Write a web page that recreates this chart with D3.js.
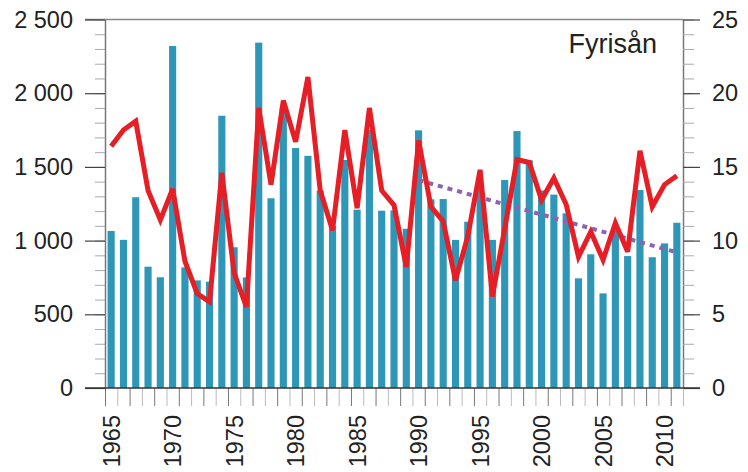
<!DOCTYPE html>
<html>
<head>
<meta charset="utf-8">
<script src="https://cdn.jsdelivr.net/npm/d3@7"></script>
<style>
  body { margin: 0; background: #fff; }
  text { font-family: "Liberation Sans", Arial, sans-serif; fill: #222; }
</style>
</head>
<body>
<div id="chart"></div>
<script>
// years and values
var years = d3.range(1965, 2012);
var barValues = [1065, 1005, 1294, 823, 751, 2320, 818, 730, 721, 1847,
                 955, 750, 2343, 1287, 1900, 1628, 1575, 1339, 1100, 1547,
                 1210, 1750, 1203, 1205, 1080, 1748, 1280, 1282, 1005, 1128,
                 1390, 1005, 1411, 1743, 1545, 1340, 1312, 1185, 744, 907,
                 642, 1070, 895, 1343, 887, 981, 1121];
var lineValues = [16.4, 17.5, 18.1, 13.4, 11.4, 13.5, 8.6, 6.4, 5.85, 14.6,
                  7.8, 5.5, 19.0, 13.8, 19.5, 16.7, 21.1, 13.4, 10.7, 17.5,
                  12.2, 19.0, 13.4, 12.4, 8.2, 16.8, 12.3, 11.3, 7.3, 10.3,
                  14.8, 6.2, 10.8, 15.5, 15.3, 12.75, 14.25, 12.45, 8.9, 10.6,
                  8.7, 11.2, 9.25, 16.1, 12.3, 13.8, 14.4];
var trendYears = [1990, 2011];
var trendValues = [14.1, 9.2];
var leftTicks = [0, 500, 1000, 1500, 2000, 2500];
var rightTicks = [0, 5, 10, 15, 20, 25];
var yearLabels = [1965, 1970, 1975, 1980, 1985, 1990, 1995, 2000, 2005, 2010];
var title = "Fyrisån";

var w = 748, h = 472;
// plot edges (note: "top" is taken by window.top, so use other names)
var plotLeft = 105, plotRight = 683, plotTop = 19.5, plotBottom = 388;

var svg = d3.select("#chart").append("svg")
    .attr("width", w)
    .attr("height", h);

// scales
var x = d3.scaleBand()
    .domain(years)
    .range([plotLeft, plotRight])
    .paddingInner(0.42)
    .paddingOuter(0.21);

// year boundaries for the small ticks under the bars
var xb = d3.scaleLinear()
    .domain([1964.5, 2011.5])
    .range([plotLeft, plotRight]);

var yL = d3.scaleLinear().domain([0, 2500]).range([plotBottom, plotTop]);
var yR = d3.scaleLinear().domain([0, 25]).range([plotBottom, plotTop]);

// bars
svg.append("g")
    .selectAll("rect")
    .data(years)
    .enter().append("rect")
    .attr("x", function(d) { return x(d); })
    .attr("width", x.bandwidth())
    .attr("y", function(d, i) { return yL(barValues[i]); })
    .attr("height", function(d, i) { return plotBottom - yL(barValues[i]); })
    .attr("fill", "#2e97b7");

// trend line (dotted)
var trendLine = d3.line()
    .x(function(d) { return x(d) + x.bandwidth() / 2; })
    .y(function(d, i) { return yR(trendValues[i]); });

svg.append("path")
    .datum(trendYears)
    .attr("d", trendLine)
    .attr("fill", "none")
    .attr("stroke", "#8b63b3")
    .attr("stroke-width", 4)
    .attr("stroke-dasharray", "5,5");

// red line
var line = d3.line()
    .x(function(d) { return x(d) + x.bandwidth() / 2; })
    .y(function(d, i) { return yR(lineValues[i]); });

svg.append("path")
    .datum(years)
    .attr("d", line)
    .attr("fill", "none")
    .attr("stroke", "#e61e25")
    .attr("stroke-width", 5)
    .attr("stroke-linejoin", "miter")
    .attr("stroke-miterlimit", 3);

// top frame line
svg.append("line")
    .attr("x1", plotLeft - 20).attr("x2", plotRight)
    .attr("y1", plotTop).attr("y2", plotTop)
    .attr("stroke", "#888").attr("stroke-width", 1.5);

// left minor ticks
svg.append("g")
    .attr("transform", "translate(" + plotLeft + ",0)")
    .call(d3.axisLeft(yL).tickValues(d3.range(0, 2501, 100)).tickSize(10).tickSizeOuter(0).tickFormat(""))
    .call(function(g) { g.select(".domain").attr("stroke", "#777").attr("stroke-width", 1.5); })
    .call(function(g) { g.selectAll(".tick line").attr("stroke", "#aaa"); });

// left major ticks + labels
svg.append("g")
    .attr("transform", "translate(" + plotLeft + ",0)")
    .call(d3.axisLeft(yL).tickValues(leftTicks).tickSize(20).tickSizeOuter(0).tickPadding(12)
        .tickFormat(function(d) { return d3.format(",")(d).replace(",", " "); }))
    .call(function(g) { g.select(".domain").remove(); })
    .call(function(g) { g.selectAll(".tick line").attr("stroke", "#444").attr("stroke-width", 1.2); })
    .call(function(g) { g.selectAll("text").attr("font-size", "23.5px").attr("fill", "#222"); });

// right minor ticks
svg.append("g")
    .attr("transform", "translate(" + plotRight + ",0)")
    .call(d3.axisRight(yR).tickValues(d3.range(0, 26, 1)).tickSize(11).tickSizeOuter(0).tickFormat(""))
    .call(function(g) { g.select(".domain").attr("stroke", "#777").attr("stroke-width", 1.5); })
    .call(function(g) { g.selectAll(".tick line").attr("stroke", "#aaa"); });

// right major ticks + labels
svg.append("g")
    .attr("transform", "translate(" + plotRight + ",0)")
    .call(d3.axisRight(yR).tickValues(rightTicks).tickSize(17).tickSizeOuter(0).tickPadding(12))
    .call(function(g) { g.select(".domain").remove(); })
    .call(function(g) { g.selectAll(".tick line").attr("stroke", "#444").attr("stroke-width", 1.2); })
    .call(function(g) { g.selectAll("text").attr("font-size", "23.5px").attr("fill", "#222"); });

// bottom ticks at year boundaries
svg.append("g")
    .attr("transform", "translate(0," + plotBottom + ")")
    .call(d3.axisBottom(xb).tickValues(d3.range(1964.5, 2012, 1)).tickSize(18).tickSizeOuter(0).tickFormat(""))
    .call(function(g) { g.select(".domain").remove(); })
    .call(function(g) { g.selectAll(".tick line").attr("stroke", function(d, i) { return i % 2 ? "#bbb" : "#777"; }); });

// baseline
svg.append("line")
    .attr("x1", plotLeft - 20).attr("x2", plotRight + 17)
    .attr("y1", plotBottom).attr("y2", plotBottom)
    .attr("stroke", "#333").attr("stroke-width", 1.5);

// year labels, rotated
svg.append("g")
    .attr("transform", "translate(0," + plotBottom + ")")
    .call(d3.axisBottom(x).tickValues(yearLabels).tickSize(0).tickPadding(0))
    .call(function(g) { g.select(".domain").remove(); })
    .call(function(g) {
        g.selectAll("text")
            .attr("font-size", "23.5px")
            .attr("fill", "#222")
            .attr("text-anchor", "end")
            .attr("transform", "rotate(-90)")
            .attr("x", -27)
            .attr("y", 0)
            .attr("dy", "0.36em");
    });

// title
svg.append("text")
    .attr("x", 657)
    .attr("y", 53)
    .attr("text-anchor", "end")
    .attr("font-size", "27px")
    .text(title);
</script>
</body>
</html>
